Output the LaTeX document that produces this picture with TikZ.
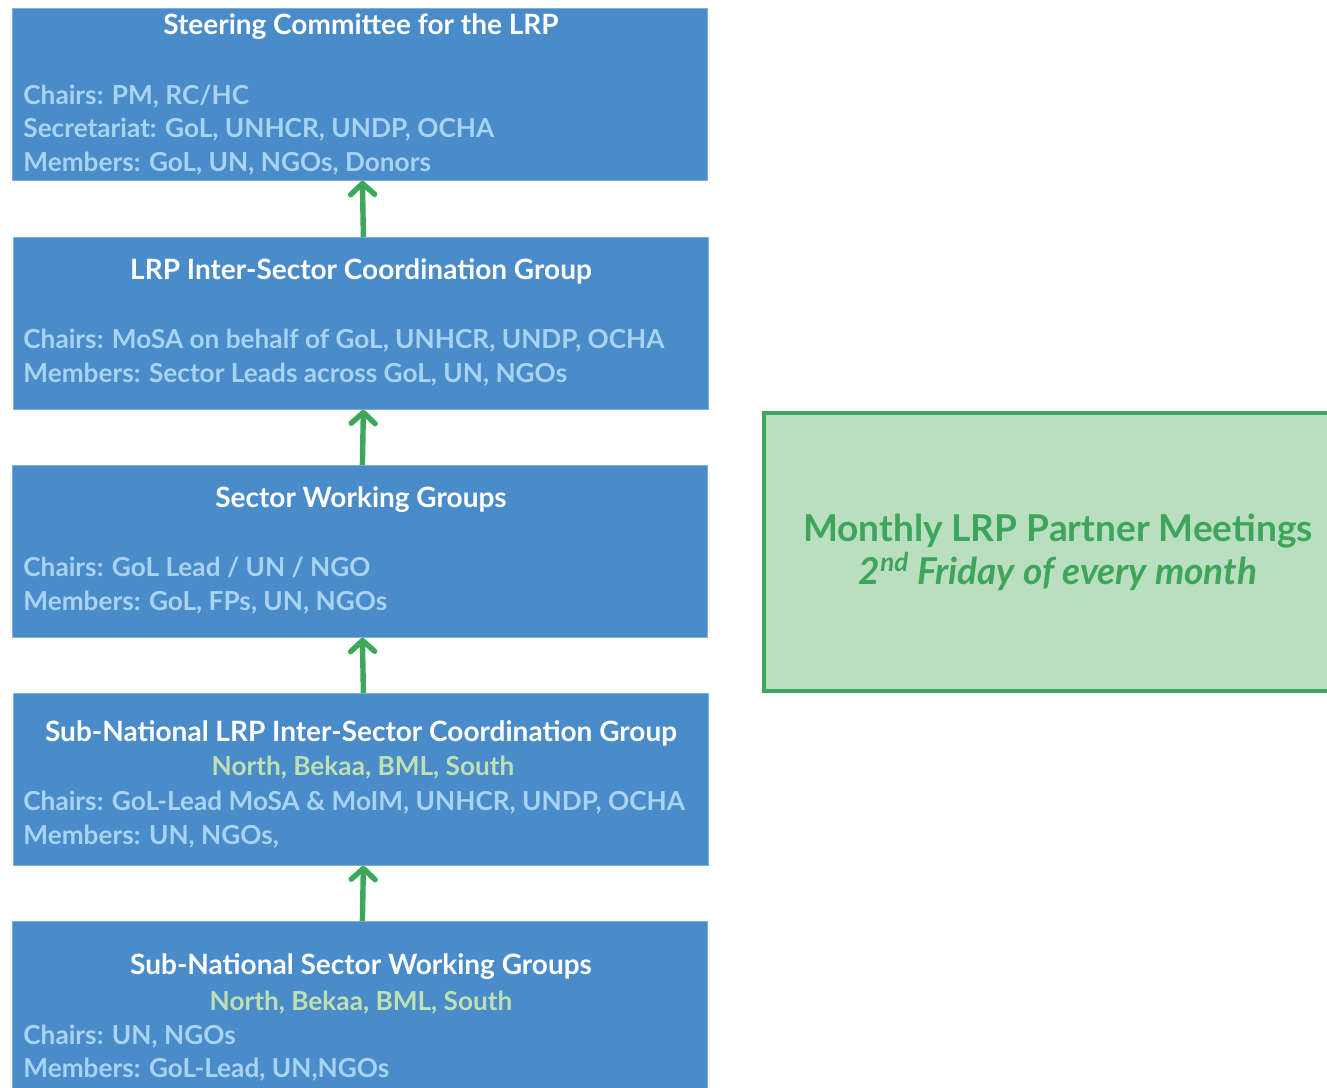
\documentclass[tikz,border=0pt]{standalone}
\usepackage{fontspec}
\setmainfont{Lato}
\usetikzlibrary{arrows.meta,positioning}

\definecolor{boxblue}{HTML}{4A8BC9}
\definecolor{boxedge}{HTML}{7DB0DF}
\definecolor{lightblue}{HTML}{A8D3F1}
\definecolor{paleg}{HTML}{BFE0B3}
\definecolor{arrowgreen}{HTML}{3DA85A}
\definecolor{meetfill}{HTML}{B9DEC0}
\definecolor{meetedge}{HTML}{3DA65A}

\tikzset{
  group/.style={draw=boxedge,thin,fill=boxblue,minimum width=347.5pt,
    minimum height=86pt,anchor=north west,inner sep=0pt},
  grouptitle/.style={font=\bfseries\fontsize{14}{16}\selectfont,text=white,anchor=base},
  info/.style={font=\bfseries\fontsize{13.1}{15}\selectfont,text=lightblue,anchor=base west,inner sep=0pt},
  region/.style={font=\bfseries\fontsize{13.1}{15}\selectfont,text=paleg,anchor=base},
  up/.style={draw=arrowgreen,line width=2.7pt,-{Straight Barb[length=5.5pt,width=12pt,round]}}
}

\begin{document}
\begin{tikzpicture}[x=0.5pt,y=-0.5pt]
  \useasboundingbox (0,0) rectangle (1327,1087);
  \clip (0,0) rectangle (1327,1087);

  % the five groups
  \node[group] (steer) at (12,8) {};
  \node[group] (isc) at (13,237) {};
  \node[group] (swg) at (12,465) {};
  \node[group] (subisc) at (13,693) {};
  \node[group] (subswg) at (12,921) {};

  \node[grouptitle] (steert) at (361,34) {Steering Committee for the LRP};
  \node[info] (steer1) at (23,104) {Chairs: PM, RC/HC};
  \node[info] (steer2) at (23,137) {Secretariat: GoL, UNHCR, UNDP, OCHA};
  \node[info] (steer3) at (23,171) {Members: GoL, UN, NGOs, Donors};

  \node[grouptitle] (isct) at (361,279) {LRP Inter-Sector Coordination Group};
  \node[info] (isc1) at (23,348) {Chairs: MoSA on behalf of GoL, UNHCR, UNDP, OCHA};
  \node[info] (isc2) at (23,382) {Members: Sector Leads across GoL, UN, NGOs};

  \node[grouptitle] (swgt) at (361,507) {Sector Working Groups};
  \node[info] (swg1) at (23,576) {Chairs: GoL Lead / UN / NGO};
  \node[info] (swg2) at (23,610) {Members: GoL, FPs, UN, NGOs};

  \node[grouptitle] (subisct) at (361,741) {Sub-National LRP Inter-Sector Coordination Group};
  \node[region] (subiscr) at (363,775) {North, Bekaa, BML, South};
  \node[info] (subisc1) at (23,810) {Chairs: GoL-Lead MoSA \& MoIM, UNHCR, UNDP, OCHA};
  \node[info] (subisc2) at (23,844) {Members: UN, NGOs,};

  \node[grouptitle] (subswgt) at (361,974) {Sub-National Sector Working Groups};
  \node[region] (subswgr) at (361,1010) {North, Bekaa, BML, South};
  \node[info] (subswg1) at (23,1044) {Chairs: UN, NGOs};
  \node[info] (subswg2) at (23,1077) {Members: GoL-Lead, UN,NGOs};

  % reporting lines
  \foreach \lower/\upper in {isc/steer,swg/isc,subisc/swg,subswg/subisc} {
    \draw[up] ([xshift=1.25pt]\lower.north) -- ([xshift=1.25pt]\upper.south);
  }

  % partner meetings
  \node[draw=meetedge,line width=2pt,fill=meetfill,minimum width=294pt,minimum height=139pt,
    anchor=north west,align=center,text=meetedge,
    font=\bfseries\fontsize{18.5}{21.5}\selectfont] (meet) at (762,411)
    {Monthly LRP Partner Meetings\\ \itshape 2\textsuperscript{nd} Friday of every month};
\end{tikzpicture}
\end{document}
